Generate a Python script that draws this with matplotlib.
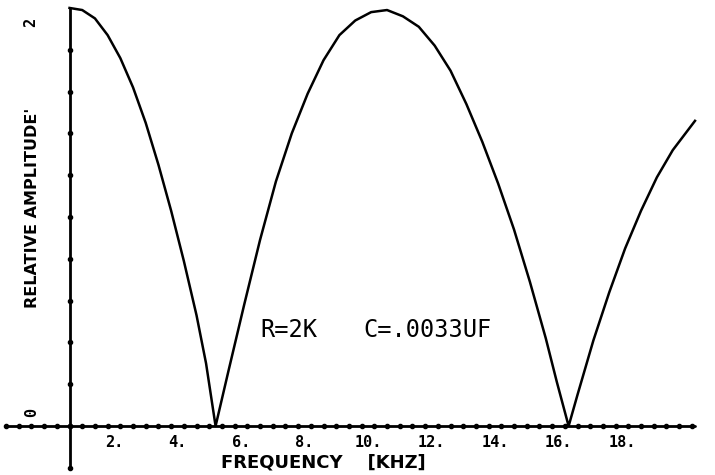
import matplotlib
matplotlib.use('Agg')
import matplotlib.pyplot as plt
import numpy as np

## data (kHz, relative amplitude)
freq_khz = [0.0, 0.4, 0.8, 1.2, 1.6, 2.0, 2.4, 2.8, 3.2, 3.6, 4.0, 4.3, 4.6,
            5.0, 5.5, 6.0, 6.5, 7.0, 7.5, 8.0, 8.5, 9.0, 9.5, 10.0,
            10.5, 11.0, 11.5, 12.0, 12.5, 13.0, 13.5, 14.0, 14.5, 15.0,
            15.35, 15.72,
            16.0, 16.5, 17.0, 17.5, 18.0, 18.5, 19.0, 19.7]
amplitude = [2.00, 1.99, 1.95, 1.87, 1.76, 1.62, 1.45, 1.25, 1.03, 0.79,
             0.53, 0.30, 0.0,
             0.26, 0.58, 0.89, 1.17, 1.40, 1.59, 1.75, 1.87, 1.94, 1.98, 1.99,
             1.96, 1.91, 1.82, 1.70, 1.54, 1.36, 1.16, 0.94, 0.69, 0.42,
             0.21, 0.0,
             0.15, 0.41, 0.64, 0.85, 1.03, 1.19, 1.32, 1.46]

x_labels = [2, 4, 6, 8, 10, 12, 14, 16, 18]
x_label_text = ['2.', '4.', '6.', '8.', '10.', '12.', '14.', '16.', '18.']
note_r = 'R=2K'
note_c = 'C=.0033UF'

## figure, axes fill the whole canvas, frame drawn by hand like the plotter
fig = plt.figure(figsize=(7.15, 4.75), dpi=100)
ax = fig.add_axes([0, 0, 1, 1])
ax.set_xlim(-2.19, 20.33)
ax.set_ylim(-0.234, 2.038)
ax.axis('off')

ink = 'black'

# axes with dotted tick marks
xt = np.arange(-2.0, 19.61, 0.4)
ax.plot([-2.0, 19.7], [0, 0], color=ink, lw=2.0, solid_capstyle='round')
ax.plot(xt, np.zeros_like(xt), 'o', color=ink, ms=3.0)
yt = np.arange(-0.2, 1.81, 0.2)
ax.plot([0, 0], [-0.2, 2.0], color=ink, lw=2.0, solid_capstyle='round')
ax.plot(np.zeros_like(yt), yt, 'o', color=ink, ms=3.0)

# the curve
ax.plot(freq_khz, amplitude, color=ink, lw=1.8, solid_joinstyle='round')

## text
for v, s in zip(x_labels, x_label_text):
    ax.text(v - 0.6, -0.077, s, ha='center', va='center', fontsize=11,
            fontweight='bold', family='DejaVu Sans Mono', color=ink)

ax.text(7.98, -0.172, 'FREQUENCY    [KHZ]', ha='center', va='center',
        fontsize=13, fontweight='bold', family='DejaVu Sans', color=ink)
ax.text(-1.18, 1.043, "RELATIVE AMPLITUDE'", rotation=90, ha='center',
        va='center', fontsize=11.5, fontweight='bold', family='DejaVu Sans',
        color=ink)
ax.text(-1.21, 1.93, '2', rotation=90, ha='center', va='center', fontsize=11,
        fontweight='bold', family='DejaVu Sans Mono', color=ink)
ax.text(-1.18, 0.067, '0', rotation=90, ha='center', va='center', fontsize=11,
        fontweight='bold', family='DejaVu Sans Mono', color=ink)

ax.text(6.0, 0.425, note_r, ha='left', va='baseline', fontsize=17,
        family='DejaVu Sans Mono', color=ink)
ax.text(9.24, 0.425, note_c, ha='left', va='baseline', fontsize=17,
        family='DejaVu Sans Mono', color=ink)

fig.savefig('out.png', dpi=100)
